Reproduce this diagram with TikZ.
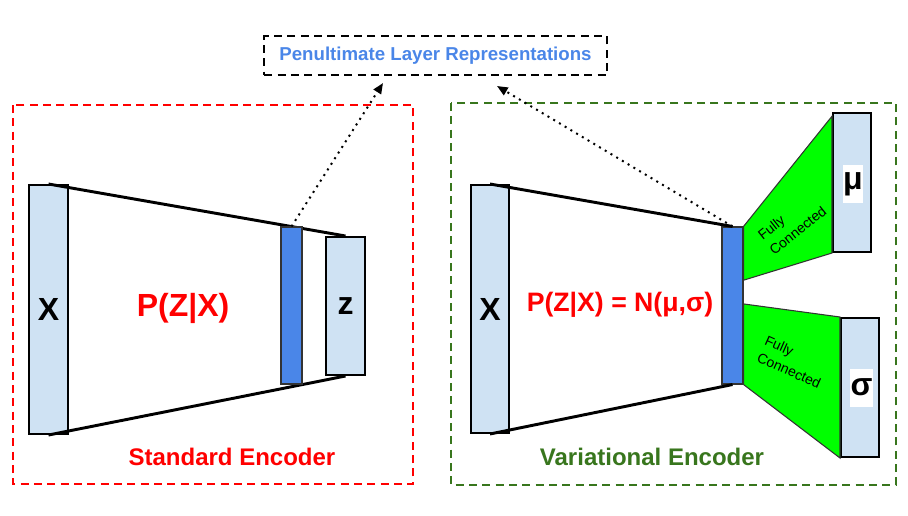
\documentclass[tikz,border=0pt]{standalone}
\usepackage{fontspec}
\setmainfont{Liberation Sans}
\usetikzlibrary{arrows.meta,calc}

\definecolor{layerblue}{HTML}{CFE2F3}
\definecolor{penblue}{HTML}{4A86E8}
\definecolor{fcgreen}{HTML}{00FF00}
\definecolor{vargreen}{HTML}{38761D}

\begin{document}
\begin{tikzpicture}[x=0.75pt, y=-0.75pt,
	layer/.style={draw=black, line width=1.5pt, fill=layerblue, inner sep=0pt, minimum width=29pt, font=\bfseries\fontsize{24}{28}\selectfont},
	penult/.style={draw=black!80, line width=0.8pt, fill=penblue, inner sep=0pt, minimum width=15.75pt, minimum height=117.75pt},
	funnel/.style={line width=2.2pt},
	fc/.style={draw=black!80, line width=0.8pt, fill=fcgreen},
	fctext/.style={font=\fontsize{10.5}{14}\selectfont, align=left, inner sep=0pt},
	frame/.style={dash pattern=on 6pt off 4pt, line width=1.5pt},
	pointer/.style={dash pattern=on 1.5pt off 3.5pt, line width=1.5pt, -{Triangle[length=8pt,width=6.5pt]}},
	greek/.style={fill=white, inner sep=0pt, minimum height=28.5pt, font=\bfseries\fontsize{24}{28}\selectfont},
	]
	\useasboundingbox (0,0) rectangle (908,515);
	
	\node[draw=black, frame, text=penblue, inner sep=0pt, minimum width=257pt, minimum height=29.25pt, font=\bfseries\fontsize{14}{16}\selectfont] (pen) at (435.5,55.5) {Penultimate Layer Representations};
	\coordinate (tipL) at (383,83);
	\coordinate (tipR) at (497,86);
	
	\begin{scope}
		\draw[frame, red] (13,105) rectangle (413,484);
		
		\node[layer, minimum height=186.75pt] (xL) at (48.5,309.5) {X};
		\node[layer, minimum height=103.5pt] (zL) at (345.5,306) {z};
		\draw[funnel] (xL.north) -- (zL.north);
		\draw[funnel] (xL.south) -- (zL.south);
		\node[penult] (hL) at (291.5,305.5) {};
		
		\node[red, font=\bfseries\fontsize{24}{28}\selectfont] (pL) at (183,308) {P(Z|X)};
		\node[red, font=\bfseries\fontsize{18}{22}\selectfont] (sL) at (232,457) {Standard Encoder};
		
		\draw[pointer] (hL.north) -- (tipL);
	\end{scope}
	
	\begin{scope}
		\draw[frame, vargreen] (451,103) rectangle (896,485);
		
		\node[layer, minimum width=28.5pt, minimum height=186pt] (xR) at (490,309) {X};
		\node[penult] (hR) at (732.5,305.5) {};
		\draw[funnel] (xR.north) -- (hR.north);
		\draw[funnel] (xR.south) -- (hR.south);
		\node[layer, minimum width=28.5pt, minimum height=104.25pt] (muR) at (852,182.5) {};
		\node[layer, minimum width=28.5pt, minimum height=104.25pt] (sgR) at (860,387.5) {};
		
		\draw[fc] (hR.north east) -- ($(muR.north west)!.03!(muR.south west)$) -- (muR.south west) -- ($(hR.north east)!.34!(hR.south east)$) -- cycle;
		\draw[fc] ($(hR.north east)!.49!(hR.south east)$) -- (sgR.north west) -- (sgR.south west) -- (hR.south east) -- cycle;
		
		\node[greek, minimum width=15pt] (muT) at (853,184) {μ};
		\node[greek, minimum width=17pt] (sgT) at (861.5,387.5) {σ};
		
		\node[fctext, rotate=38.5] (fcTop) at (792,223) {Fully\\Connected};
		\node[fctext, rotate=-24] (fcBot) at (793,362) {Fully\\Connected};
		
		\node[red, font=\bfseries\fontsize{20}{24}\selectfont] (pR) at (620,305) {P(Z|X) = N(μ,σ)};
		\node[vargreen, font=\bfseries\fontsize{18}{22}\selectfont] (sR) at (652,457) {Variational Encoder};
		
		\draw[pointer] (hR.north) -- (tipR);
	\end{scope}
\end{tikzpicture}
\end{document}
